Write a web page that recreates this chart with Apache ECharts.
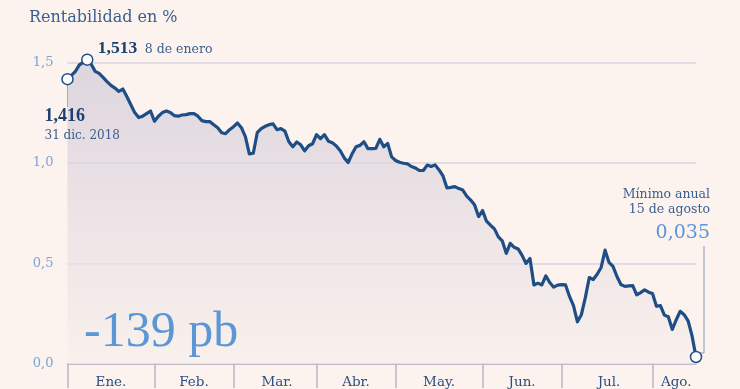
<!DOCTYPE html>
<html><head><meta charset="utf-8">
<script src="https://cdn.jsdelivr.net/npm/echarts@6/dist/echarts.min.js"></script>
<style>html,body{margin:0;padding:0;background:#fcf3ee;} #c{width:740px;height:389px;}</style>
</head><body><div id="c"></div>
<script>
// ---- data ----
const monthLabels = ['Ene.', 'Feb.', 'Mar.', 'Abr.', 'May.', 'Jun.', 'Jul.', 'Ago.'];
const holidays = ['2019-01-01', '2019-04-19', '2019-04-22', '2019-05-01'];
const startDate = '2018-12-31';
const endDate = '2019-08-15';
const yTickStep = 0.5;
const yMax = 1.5;
// Rentabilidad del bono (%) por sesión
const yields = [
  1.416, 1.435, 1.455, 1.487, 1.500, 1.513, 1.490, 1.455, 1.445, 1.425,
  1.404, 1.385, 1.372, 1.355, 1.367, 1.330, 1.290, 1.250, 1.225, 1.232,
  1.245, 1.258, 1.207, 1.232, 1.250, 1.258, 1.250, 1.235, 1.232, 1.238,
  1.240, 1.245, 1.245, 1.232, 1.210, 1.205, 1.205, 1.190, 1.175, 1.150,
  1.145, 1.165, 1.180, 1.198, 1.175, 1.130, 1.045, 1.048, 1.150, 1.170,
  1.182, 1.190, 1.194, 1.165, 1.170, 1.158, 1.105, 1.080, 1.104, 1.090,
  1.060, 1.085, 1.095, 1.140, 1.120, 1.140, 1.108, 1.100, 1.084, 1.060,
  1.025, 1.002, 1.045, 1.080, 1.087, 1.105, 1.071, 1.071, 1.072, 1.117,
  1.080, 1.096, 1.030, 1.012, 1.003, 0.998, 0.995, 0.982, 0.975, 0.962,
  0.962, 0.989, 0.982, 0.990, 0.965, 0.935, 0.875, 0.878, 0.882, 0.872,
  0.865, 0.835, 0.815, 0.790, 0.733, 0.763, 0.710, 0.690, 0.672, 0.632,
  0.612, 0.550, 0.600, 0.580, 0.572, 0.540, 0.500, 0.525, 0.393, 0.402,
  0.393, 0.438, 0.405, 0.382, 0.392, 0.395, 0.393, 0.336, 0.290, 0.210,
  0.245, 0.330, 0.430, 0.420, 0.446, 0.480, 0.566, 0.505, 0.485, 0.435,
  0.395, 0.386, 0.388, 0.390, 0.344, 0.355, 0.369, 0.357, 0.350, 0.287,
  0.290, 0.243, 0.235, 0.172, 0.220, 0.262, 0.245, 0.215, 0.140, 0.035
];
const highlightLabels = {
  start: ['1,416', '31 dic. 2018'],
  max: ['1,513', '8 de enero'],
  end: ['Mínimo anual', '15 de agosto', '0,035'],
  change: '-139 pb'
};

// ---- build business-day categories ----
const dates = [];
const monthOf = [];
(function () {
  const d = new Date(startDate + 'T00:00:00Z');
  const e = new Date(endDate + 'T00:00:00Z');
  while (d <= e) {
    const s = d.toISOString().slice(0, 10);
    const wd = d.getUTCDay();
    if (wd !== 0 && wd !== 6 && holidays.indexOf(s) < 0) {
      dates.push(s);
      monthOf.push(d.getUTCFullYear() === 2018 ? -1 : d.getUTCMonth());
    }
    d.setUTCDate(d.getUTCDate() + 1);
  }
})();
const tickIdx = new Set([0]);
const labelIdx = new Set();
for (let m = 0; m < monthLabels.length; m++) {
  let first = -1, last = -1;
  monthOf.forEach((mm, i) => { if (mm === m) { if (first < 0) first = i; last = i; } });
  if (first < 0) continue;
  labelIdx.add(Math.floor((first + last) / 2));
  if (last < dates.length - 1) tickIdx.add(last);
}
const iStart = 0;
const iMax = yields.indexOf(Math.max.apply(null, yields));
const iEnd = yields.length - 1;
const marked = new Set([iStart, iMax, iEnd]);

const LINE = '#1f4e86';
const chart = echarts.init(document.getElementById('c'), null, { renderer: 'canvas' });
chart.setOption({
  backgroundColor: '#fcf3ee',
  animation: false,
  grid: { left: 67.5, right: 44, top: 62.3, bottom: 22.5 },
  xAxis: {
    type: 'category',
    data: dates,
    boundaryGap: false,
    axisLine: { show: true, lineStyle: { color: '#b9afc5', width: 1.5 } },
    axisTick: { show: true, interval: (i) => tickIdx.has(i), length: 24, lineStyle: { color: '#bdb3c8', width: 1.5 } },
    axisLabel: {
      interval: (i) => labelIdx.has(i),
      formatter: (v, i) => monthLabels[monthOf[i]] || '',
      color: '#2b4f80', fontFamily: 'DejaVu Serif', fontSize: 13.5, margin: 11
    },
    splitLine: { show: false }
  },
  yAxis: {
    type: 'value', min: 0, max: yMax, interval: yTickStep,
    axisLine: { show: false }, axisTick: { show: false },
    axisLabel: {
      formatter: (v) => v.toFixed(1).replace('.', ','),
      color: '#7ea3d6', fontFamily: 'DejaVu Serif', fontSize: 13, margin: 14
    },
    splitLine: { show: true, lineStyle: { color: '#dbd2df', width: 1.5 } }
  },
  series: [{
    type: 'line',
    data: yields,
    clip: false,
    showAllSymbol: true,
    symbol: (v, p) => marked.has(p.dataIndex) ? 'circle' : 'none',
    symbolSize: 11,
    itemStyle: { color: '#ffffff', borderColor: LINE, borderWidth: 1.5 },
    lineStyle: { color: LINE, width: 3.2, join: 'round' },
    areaStyle: {
      color: new echarts.graphic.LinearGradient(0, 0, 0, 1, [
        { offset: 0, color: '#d0c9d7' },
        { offset: 1, color: '#f8f0ec' }
      ])
    },
    emphasis: { disabled: true },
    z: 3
  }]
});

const p0 = chart.convertToPixel({ seriesIndex: 0 }, [iStart, yields[iStart]]);
const pM = chart.convertToPixel({ seriesIndex: 0 }, [iMax, yields[iMax]]);
const pE = chart.convertToPixel({ seriesIndex: 0 }, [iEnd, yields[iEnd]]);
const txt = (text, x, y, font, fill, align) => ({
  type: 'text', z: 10,
  style: { text: text, x: x, y: y, font: font, fill: fill, textAlign: align || 'left', textVerticalAlign: 'middle' }
});
const SER = '"DejaVu Serif", serif';
const LIB = '"Liberation Serif", serif';
chart.setOption({
  graphic: [
    txt('Rentabilidad en %', 29, 17.4, '16px ' + SER, '#3b5e90'),
    txt(highlightLabels.max[0], pM[0] + 10.5, pM[1] - 11.5, 'bold 17.5px ' + LIB, '#1e3f70'),
    txt(highlightLabels.max[1], pM[0] + 57.5, pM[1] - 10, '12.5px ' + SER, '#3b5e90'),
    { type: 'line', z: 2, shape: { x1: p0[0], y1: p0[1] + 5.5, x2: p0[0], y2: 107 }, style: { stroke: '#8896b4', lineWidth: 1 } },
    txt(highlightLabels.start[0], 44.5, 116, 'bold 18px ' + LIB, '#1e3f70'),
    txt(highlightLabels.start[1], 44.5, 135.8, '12px ' + SER, '#3b5e90'),
    { type: 'polyline', z: 2, shape: { points: [[pE[0] + 3.5, pE[1] - 4], [704, 353], [704, 246]] }, style: { stroke: '#8896b4', lineWidth: 1, fill: null } },
    txt(highlightLabels.end[0], 710, 194.6, '12.5px ' + SER, '#3b5e90', 'right'),
    txt(highlightLabels.end[1], 710, 209.6, '12.5px ' + SER, '#3b5e90', 'right'),
    txt(highlightLabels.end[2], 710, 233.4, '19px ' + SER, '#5a95d6', 'right'),
    txt(highlightLabels.change, 84, 333, '50px ' + LIB, '#5b96d7')
  ]
});
</script></body></html>
